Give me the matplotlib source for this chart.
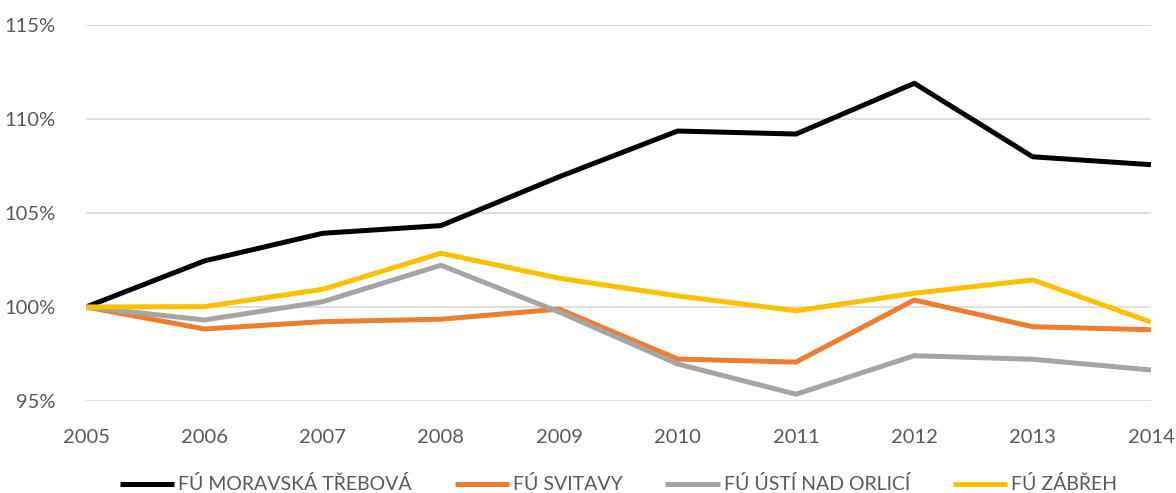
import matplotlib
matplotlib.use('Agg')
import matplotlib.pyplot as plt
from matplotlib.ticker import FuncFormatter

# values (index, 2005 = 100 %)
years = [2005, 2006, 2007, 2008, 2009, 2010, 2011, 2012, 2013, 2014]
moravska_trebova = [100.0, 102.45, 103.92, 104.33, 106.93, 109.36, 109.2, 111.9, 107.99, 107.57]
svitavy = [100.0, 98.83, 99.22, 99.35, 99.89, 97.23, 97.07, 100.37, 98.95, 98.79]
usti_nad_orlici = [100.0, 99.31, 100.28, 102.22, 99.73, 96.97, 95.36, 97.41, 97.22, 96.65]
zabreh = [100.0, 100.02, 100.94, 102.86, 101.53, 100.59, 99.8, 100.73, 101.44, 99.2]

labels = ['FÚ MORAVSKÁ TŘEBOVÁ', 'FÚ SVITAVY', 'FÚ ÚSTÍ NAD ORLICÍ', 'FÚ ZÁBŘEH']
colors = ['#000000', '#ED7D31', '#A5A5A5', '#FFC000']

plt.rcParams['font.family'] = ['Lato', 'DejaVu Sans']
text_color = '#595959'

fig = plt.figure(figsize=(11.76, 4.93), dpi=100)
ax = fig.add_axes([86 / 1176, 1 - 401 / 493, (1151 - 86) / 1176, (401 - 25) / 493])

for series, label, color in zip([moravska_trebova, svitavy, usti_nad_orlici, zabreh], labels, colors):
    ax.plot(years, series, color=color, linewidth=3.6, label=label, solid_capstyle='butt')

ax.set_xlim(2005, 2014)
ax.set_ylim(95, 115)
ax.set_yticks([95, 100, 105, 110, 115])
ax.yaxis.set_major_formatter(FuncFormatter(lambda v, p: f'{v:.0f}%'))
ax.set_xticks(years)

ax.grid(axis='y', color='#D9D9D9', linewidth=1.2)
ax.set_axisbelow(True)
for s in ax.spines.values():
    s.set_visible(False)
ax.tick_params(axis='both', length=0, labelsize=14.5, labelcolor=text_color)
ax.tick_params(axis='x', pad=20)
ax.tick_params(axis='y', pad=22)

ax.legend(loc='center', bbox_to_anchor=(0.5, -0.222), ncol=4, frameon=False,
          fontsize=14, labelcolor=text_color, handlelength=2.8, handletextpad=0.2,
          columnspacing=2.2)

plt.savefig('out.png', dpi=100)
plt.close()
